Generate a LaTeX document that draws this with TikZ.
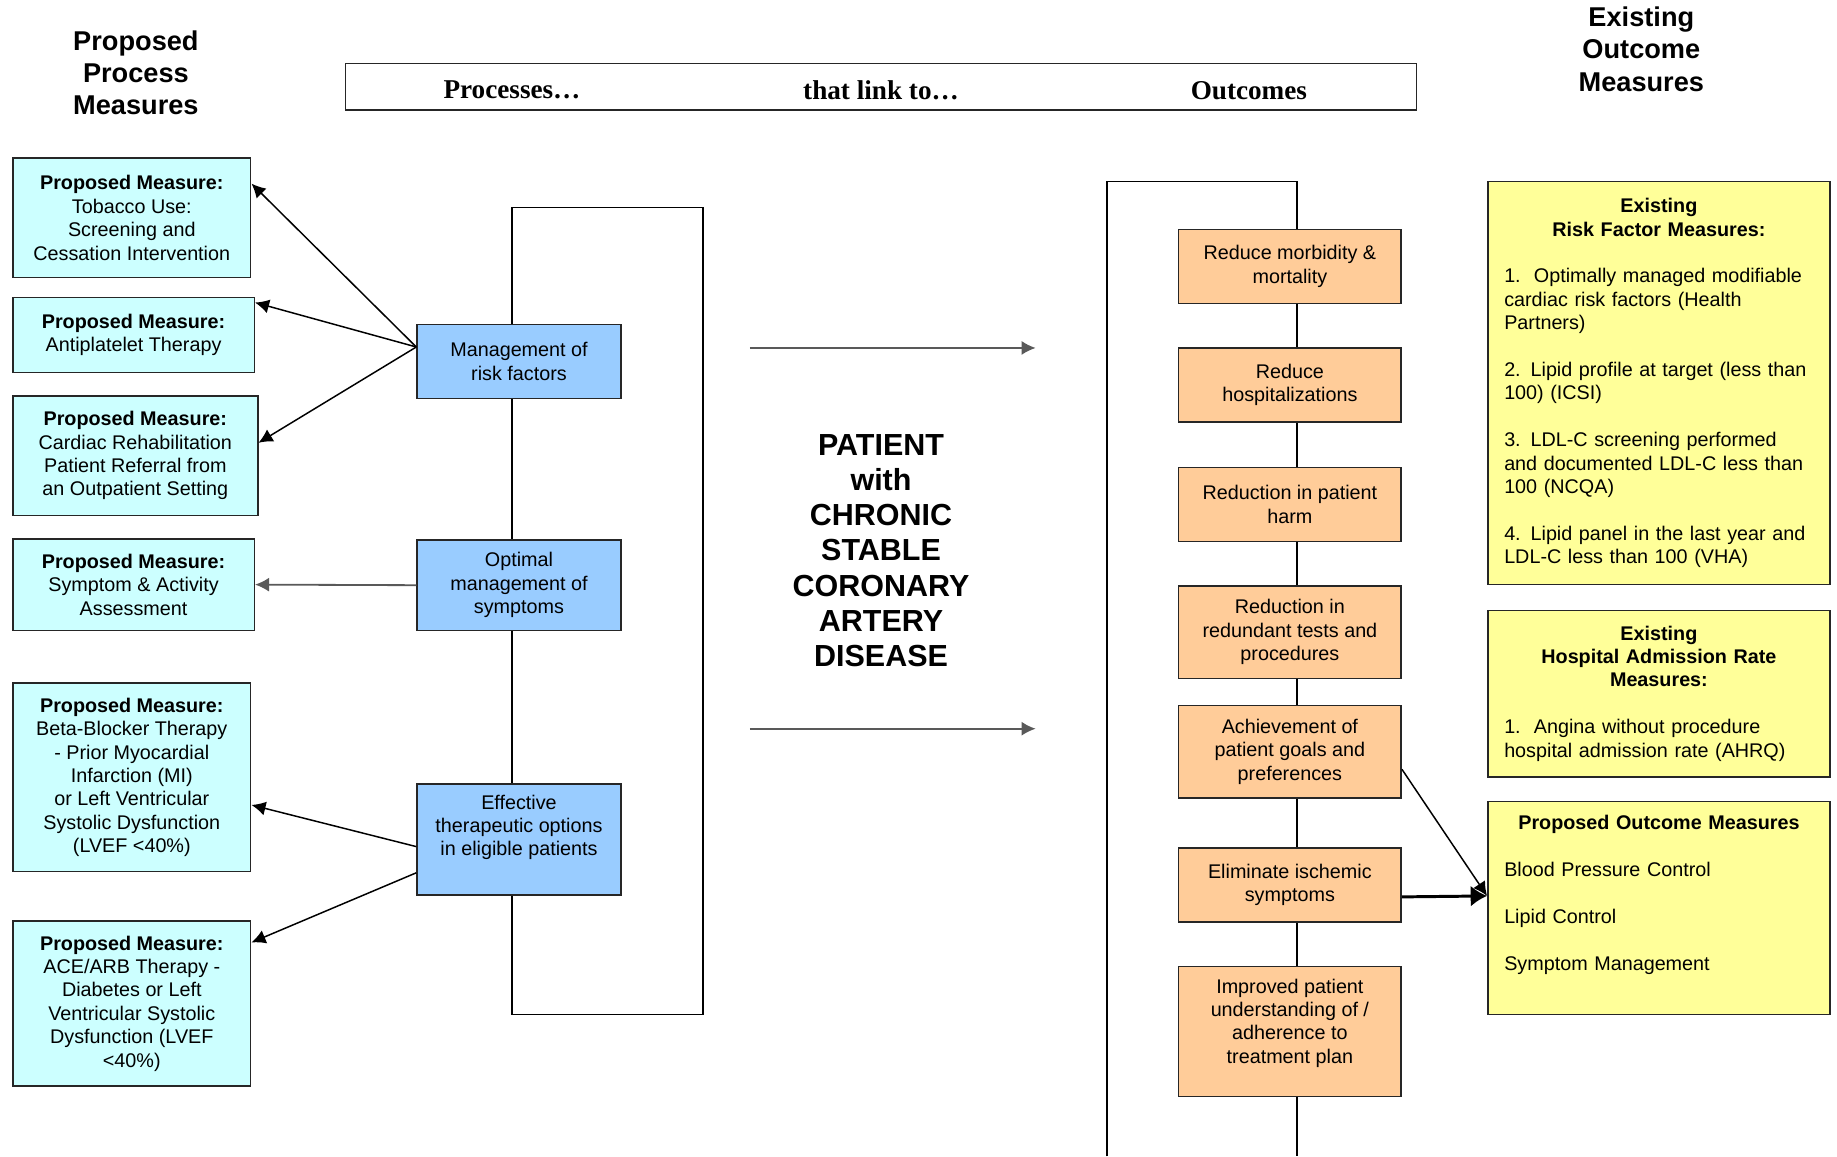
\documentclass[tikz,border=0pt]{standalone}
\usepackage{fontspec}
\usetikzlibrary{arrows.meta}
\setmainfont{Liberation Sans}
\newfontfamily\barfont{Liberation Serif}
\definecolor{cyanfill}{HTML}{CCFFFF}
\definecolor{bluefill}{HTML}{99CCFF}
\definecolor{orangefill}{HTML}{FFCC99}
\definecolor{yellowfill}{HTML}{FFFF99}
\setlength{\parindent}{0pt}
\begin{document}
\begin{tikzpicture}[x=0.025cm,y=-0.025cm,>={Latex[length=0.3cm,width=0.3cm]},
  font=\fontsize{12}{14.2}\selectfont,
  box/.style={draw=black!85,line width=0.9pt,align=center,inner sep=2pt},
  measbox/.style={box,fill=cyanfill},
  procbox/.style={box,fill=bluefill,minimum width=4.35cm},
  outbox/.style={box,fill=orangefill,minimum width=4.75cm},
  existbox/.style={box,fill=yellowfill,minimum width=7.3cm,text width=6.6cm,
    inner xsep=0.35cm,align=left},
  head/.style={font=\bfseries\fontsize{16.5}{19.5}\selectfont,align=center},
  barlabel/.style={font=\barfont\bfseries\fontsize{16.5}{19}\selectfont},
  arr/.style={->,line width=0.9pt},
  grayarr/.style={->,line width=1.1pt,black!65}]
  \useasboundingbox (0,0) rectangle (1568,987);
  \draw[line width=0.8pt] (437,177) rectangle (600,866);
  \draw[line width=0.8pt] (945,987) |- (1107,155) -- (1107,987);
  \node[head] (prochead) at (116,62) {Proposed\\Process\\Measures};
  \node[head] (exhead) at (1401,42) {Existing\\Outcome\\Measures};
  \node[draw=black!85,line width=0.9pt,minimum width=22.85cm,minimum height=1cm] (bar) at (752,74) {};
  \node[barlabel] (barproc) at (437,77) {Processes\dots};
  \node[barlabel] (barlink) at (752,77) {that link to\dots};
  \node[barlabel] (barout) at (1066,77) {Outcomes};
  \node[measbox,minimum width=5.075cm,minimum height=2.55cm] (tob) at (112.5,186)
    {\textbf{Proposed Measure:}\\Tobacco Use:\\Screening and\\Cessation Intervention};
  \node[measbox,minimum width=5.15cm,minimum height=1.6cm] (anti) at (114,286)
    {\textbf{Proposed Measure:}\\Antiplatelet Therapy};
  \node[measbox,minimum width=5.225cm,minimum height=2.55cm] (rehab) at (115.5,389)
    {\textbf{Proposed Measure:}\\Cardiac Rehabilitation\\Patient Referral from\\an Outpatient Setting};
  \node[measbox,minimum width=5.15cm,minimum height=1.95cm] (sympt) at (114,499)
    {\textbf{Proposed Measure:}\\Symptom \& Activity\\Assessment};
  \node[measbox,minimum width=5.075cm,minimum height=4.025cm] (beta) at (112.5,663.5)
    {\textbf{Proposed Measure:}\\Beta-Blocker Therapy\\- Prior Myocardial\\Infarction (MI)\\or Left Ventricular\\Systolic Dysfunction\\(LVEF <40\%)};
  \node[measbox,minimum width=5.075cm,minimum height=3.525cm] (ace) at (112.5,856.5)
    {\textbf{Proposed Measure:}\\ACE/ARB Therapy -\\Diabetes or Left\\Ventricular Systolic\\Dysfunction (LVEF\\<40\%)};
  \node[procbox,minimum height=1.575cm] (mgmt) at (443,308.5) {Management of\\risk factors};
  \node[procbox,minimum height=1.925cm] (optim) at (443,499.5) {Optimal\\management of\\symptoms};
  \node[procbox,minimum height=2.375cm] (effect) at (443,716.5)
    {Effective\\therapeutic options\\in eligible patients\rule[-0.6cm]{0pt}{0.6cm}};
  \node[font=\bfseries\fontsize{18.5}{21.3}\selectfont,align=center] (patient) at (752,470)
    {PATIENT\\with\\CHRONIC\\STABLE\\CORONARY\\ARTERY\\DISEASE};
  \coordinate (topstart) at (640,297);
  \coordinate (topend) at (884,297);
  \coordinate (lowstart) at (640,622);
  \coordinate (lowend) at (884,622);
  \draw[grayarr] (topstart) -- (topend);
  \draw[grayarr] (lowstart) -- (lowend);
  \node[outbox,minimum height=1.575cm] (morb) at (1101,227.5) {Reduce morbidity \&\\mortality};
  \node[outbox,minimum height=1.575cm] (hosp) at (1101,328.5) {Reduce\\hospitalizations};
  \node[outbox,minimum height=1.575cm] (harm) at (1101,430.5) {Reduction in patient\\harm};
  \node[outbox,minimum height=1.975cm] (redund) at (1101,539.5) {Reduction in\\redundant tests and\\procedures};
  \node[outbox,minimum height=1.975cm] (goals) at (1101,641.5) {Achievement of\\patient goals and\\preferences};
  \node[outbox,minimum height=1.575cm] (ischem) at (1101,755.5) {Eliminate ischemic\\symptoms};
  \node[outbox,minimum height=2.775cm] (adhere) at (1101,880.5)
    {Improved patient\\understanding of /\\adherence to\\treatment plan\rule[-0.45cm]{0pt}{0.45cm}};
  \node[existbox,minimum height=8.6cm] (riskm) at (1416,327)
    {{\centering\textbf{Existing}\\\textbf{Risk Factor Measures:}\par}
     \vspace{\baselineskip}
     1.\ \ Optimally managed modifiable\\cardiac risk factors (Health\\Partners)\\[\baselineskip]
     2. Lipid profile at target (less than\\100) (ICSI)\\[\baselineskip]
     3. LDL-C screening performed\\and documented LDL-C less than\\100 (NCQA)\\[\baselineskip]
     4. Lipid panel in the last year and\\LDL-C less than 100 (VHA)};
  \node[existbox,minimum height=3.55cm] (admis) at (1416,592)
    {{\centering\textbf{Existing}\\\textbf{Hospital Admission Rate}\\\textbf{Measures:}\par}
     \vspace{\baselineskip}
     1.\ \ Angina without procedure\\hospital admission rate (AHRQ)};
  \node[existbox,minimum height=4.55cm] (propm) at (1416,775)
    {{\centering\textbf{Proposed Outcome Measures}\par}
     \vspace{\baselineskip}
     Blood Pressure Control\\[\baselineskip]
     Lipid Control\\[\baselineskip]
     Symptom Management\rule[-0.65cm]{0pt}{0.65cm}};
  \draw[arr] (mgmt.172) -- (tob.16);
  \draw[arr] (mgmt.172) -- (anti.15);
  \draw[arr] (mgmt.172) -- (rehab.6);
  \draw[grayarr] (optim.west) -- (sympt.east);
  \draw[arr] (effect.184) -- (beta.347);
  \draw[arr] (effect.198) -- (ace.27);
  \draw[arr] (goals.351) -- (propm.176);
  \draw[line width=1.8pt,-{Latex[length=0.35cm,width=0.45cm]}] (ischem.354) -- (propm.176);
\end{tikzpicture}
\end{document}
